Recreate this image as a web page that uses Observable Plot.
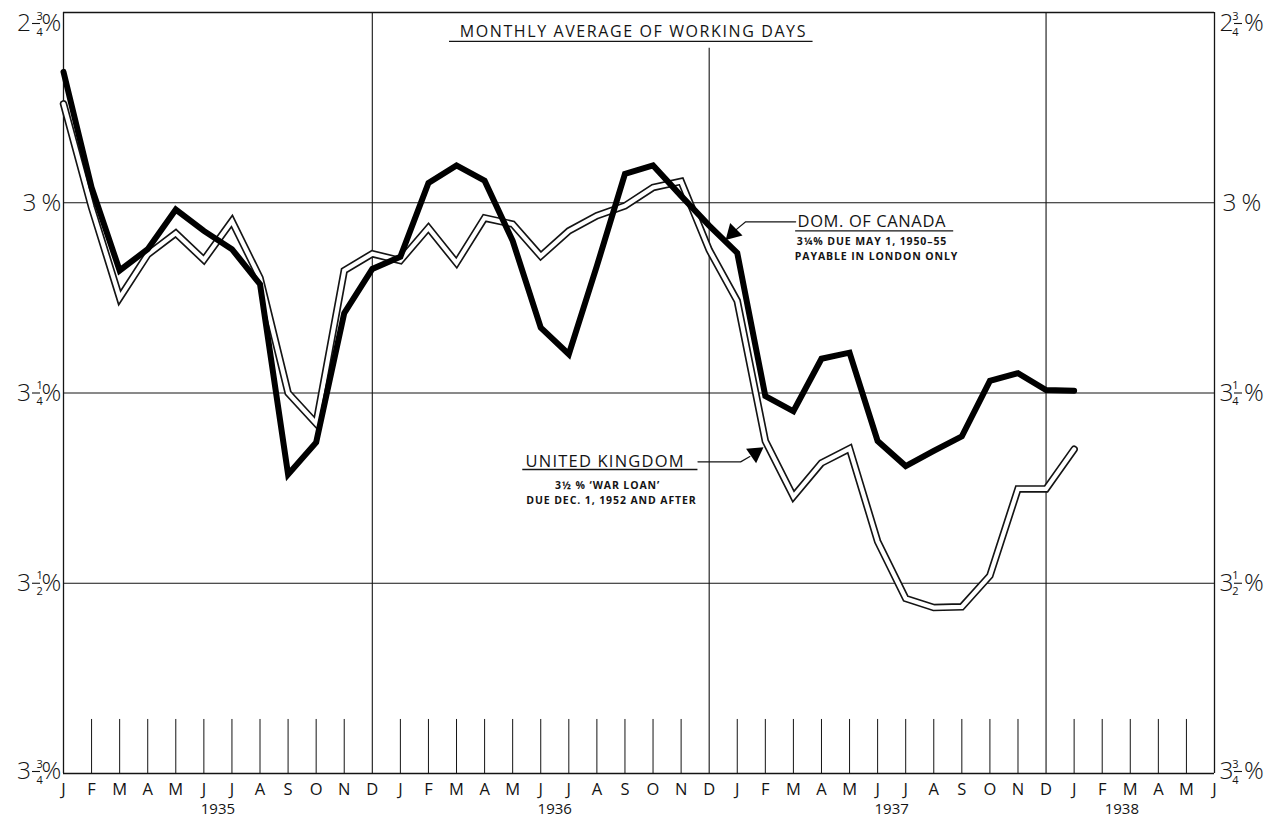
<!DOCTYPE html>
<html>
<head>
<meta charset="utf-8">
<script src="https://cdn.jsdelivr.net/npm/d3@7"></script>
<script src="https://cdn.jsdelivr.net/npm/@observablehq/plot@0.6"></script>
<style>
  html, body { margin: 0; padding: 0; background: #fff; }
  #chart svg text { font-family: "Open Sans", "DejaVu Sans", sans-serif; }
</style>
</head>
<body>
<div id="chart"></div>
<script>
// ---- data ----
const months = [
  "J","F","M","A","M","J","J","A","S","O","N","D",
  "J","F","M","A","M","J","J","A","S","O","N","D",
  "J","F","M","A","M","J","J","A","S","O","N","D",
  "J","F","M","A","M","J"
];
const years = ["1935", "1936", "1937", "1938"];
const yearPos = [5.5, 17.5, 29.5, 37.7];           // month-index where each year label sits
const dividers = [11, 23, 35];                      // "D" months carrying full vertical rules

// Yield (%) — Dom. of Canada 3¼% due May 1, 1950-55 (Jan 1935 – Jan 1938)
const canada = [
  2.828, 2.980, 3.089, 3.061, 3.009, 3.037, 3.061, 3.107, 3.357, 3.315, 3.145, 3.087,
  3.071, 2.974, 2.951, 2.971, 3.050, 3.164, 3.199, 3.083, 2.962, 2.951, 2.991, 3.030,
  3.066, 3.254, 3.274, 3.205, 3.197, 3.313, 3.346, 3.326, 3.307, 3.234, 3.224, 3.246,
  3.247
];
// Yield (%) — United Kingdom 3½% "War Loan" due Dec. 1, 1952 and after
const uk = [
  2.870, 3.006, 3.125, 3.068, 3.040, 3.075, 3.024, 3.099, 3.250, 3.290, 3.089, 3.067,
  3.076, 3.033, 3.079, 3.020, 3.028, 3.070, 3.037, 3.017, 3.004, 2.980, 2.972, 3.062,
  3.129, 3.313, 3.386, 3.342, 3.323, 3.445, 3.520, 3.532, 3.531, 3.490, 3.376, 3.376,
  3.324
];

const yTicks = [2.75, 3, 3.25, 3.5, 3.75];
const yWhole = ["2", "3", "3", "3", "3"];
const yNum   = ["3", "",  "1", "1", "3"];
const yDen   = ["4", "",  "4", "2", "4"];

const title = "MONTHLY AVERAGE OF WORKING DAYS";

// ---- derived tables ----
const idx = d3.range(months.length);
const minorTicks = idx.filter(i => i > 0 && i < months.length - 1 && !dividers.includes(i));
const canadaRows = canada.map((v, i) => ({i, v}));
const ukRows = uk.map((v, i) => ({i, v}));

const INK = "#141414";
const BIG = 24.5, SMALL = 11;
const shiftOf = k => (k === 0 ? 11 : (k === yTicks.length - 1 ? -2 : 0));
const FRAC_L = -27, FRAC_R = 24;

// y-axis labels with stacked fractions (left and right)
function yLabelMarks() {
  const out = [];
  yTicks.forEach((t, k) => {
    const frac = yNum[k] !== "";
    const shift = shiftOf(k);
    const common = {y: d => d, fill: INK, fontSize: BIG, fontWeight: 300, lineAnchor: "middle", dy: shift};
    // left side
    out.push(Plot.text([t], {...common, frameAnchor: "left", text: () => yWhole[k], textAnchor: "end", dx: frac ? -32.5 : -27}));
    out.push(Plot.text([t], {...common, frameAnchor: "left", text: () => "%", textAnchor: "start", dx: -22}));
    // right side
    out.push(Plot.text([t], {...common, frameAnchor: "right", text: () => yWhole[k], textAnchor: "start", dx: frac ? 5 : 8}));
    out.push(Plot.text([t], {...common, frameAnchor: "right", text: () => "%", textAnchor: "start", dx: frac ? 29.5 : 27}));
    if (frac) {
      for (const [anchor, dx] of [["left", FRAC_L], ["right", FRAC_R]]) {
        out.push(Plot.text([t], {y: d => d, frameAnchor: anchor, text: () => yNum[k], fontSize: SMALL, fill: INK, dx, dy: shift - 7.5}));
        out.push(Plot.text([t], {y: d => d, frameAnchor: anchor, text: () => yDen[k], fontSize: SMALL, fill: INK, dx, dy: shift + 8.5}));
      }
    }
  });
  return out;
}

const chart = Plot.plot({
  width: 1266,
  height: 820,
  marginTop: 12,
  marginRight: 52,
  marginBottom: 47,
  marginLeft: 63,
  x: {domain: [0, months.length - 1], axis: null},
  y: {domain: [2.75, 3.75], reverse: true, axis: null},
  style: {background: "#fff", color: INK, fontFamily: "Open Sans, DejaVu Sans, sans-serif", overflow: "visible"},
  marks: [
    // grid & frame
    Plot.ruleY([3, 3.25, 3.5], {stroke: INK, strokeWidth: 1}),
    Plot.ruleY([2.75, 3.75], {stroke: INK, strokeWidth: 1.3}),
    Plot.ruleX([0, months.length - 1], {stroke: INK, strokeWidth: 1.3}),
    Plot.ruleX(dividers, {y1: d => (d === 23 ? 2.797 : 2.75), y2: 3.75, stroke: INK, strokeWidth: 1.1}),
    Plot.ruleX(minorTicks, {y1: 3.679, y2: 3.75, stroke: INK, strokeWidth: 1}),

    // month & year labels
    Plot.text(idx, {x: d => d, text: d => months[d], frameAnchor: "bottom", dy: 21, fontSize: 16.5, fill: INK}),
    Plot.text(years, {x: (d, i) => yearPos[i], text: d => d, frameAnchor: "bottom", dy: 40, fontSize: 15, fill: INK}),

    ...yLabelMarks(),

    // title
    Plot.text([title], {x: 20.3, y: 2.7755, text: d => d, fontSize: 16, fill: INK}),
    Plot.ruleY([2.788], {x1: 13.75, x2: 26.7, stroke: INK, strokeWidth: 1.3}),

    // UK double line
    Plot.line(ukRows, {x: "i", y: "v", stroke: INK, strokeWidth: 7.5, strokeLinejoin: "miter", strokeMiterlimit: 3}),
    Plot.line(ukRows, {x: "i", y: "v", stroke: "#fff", strokeWidth: 4.2, strokeLinejoin: "miter", strokeMiterlimit: 3}),
    // Canada thick line
    Plot.line(canadaRows, {x: "i", y: "v", stroke: "#000", strokeWidth: 6, strokeLinejoin: "miter", strokeMiterlimit: 2.5}),

    // Canada annotation
    Plot.text(["DOM. OF CANADA"], {x: 26.15, y: 3.0245, text: d => d, textAnchor: "start", fontSize: 16.5, fill: INK}),
    Plot.ruleY([3.037], {x1: 26.08, x2: 31.71, stroke: INK, strokeWidth: 1.3}),
    Plot.text(["3¼% DUE MAY 1, 1950–55"], {x: 28.8, y: 3.051, text: d => d, fontSize: 10.5, fontWeight: 700, fill: INK}),
    Plot.text(["PAYABLE IN LONDON ONLY"], {x: 28.96, y: 3.071, text: d => d, fontSize: 10.5, fontWeight: 700, fill: INK}),
    Plot.line([[26.08, 3.025], [24.3, 3.025], [23.94, 3.036]], {stroke: INK, strokeWidth: 1.2}),
    Plot.dot([[23.84, 3.0395]], {symbol: "triangle", r: 6.5, rotate: 225, fill: "#000", stroke: "none"}),

    // UK annotation
    Plot.text(["UNITED KINGDOM"], {x: 16.46, y: 3.3405, text: d => d, textAnchor: "start", fontSize: 16.5, fill: INK}),
    Plot.ruleY([3.3505], {x1: 16.36, x2: 22.6, stroke: INK, strokeWidth: 1.3}),
    Plot.text(["3½ % ‘WAR LOAN’"], {x: 19.38, y: 3.3715, text: d => d, fontSize: 10.5, fontWeight: 700, fill: INK}),
    Plot.text(["DUE DEC. 1, 1952 AND AFTER"], {x: 19.52, y: 3.392, text: d => d, fontSize: 10.5, fontWeight: 700, fill: INK}),
    Plot.line([[22.6, 3.3405], [24.12, 3.3405], [24.45, 3.3335]], {stroke: INK, strokeWidth: 1.2}),
    Plot.dot([[24.64, 3.329]], {symbol: "triangle", r: 6.5, rotate: 55, fill: "#000", stroke: "none"})
  ]
});

document.getElementById("chart").appendChild(chart);

// post-styling: fraction bars and letter spacing
const svg = d3.select(chart);
const sx = chart.scale("x");
const sy = chart.scale("y");
const left = sx.apply(0), right = sx.apply(months.length - 1);
yTicks.forEach((t, k) => {
  if (!yNum[k]) return;
  const y = sy.apply(t) + shiftOf(k) + 0.5;
  for (const cx of [left + FRAC_L, right + FRAC_R]) {
    svg.append("line").attr("x1", cx - 4).attr("x2", cx + 4).attr("y1", y).attr("y2", y)
      .attr("stroke", INK).attr("stroke-width", 1.1);
  }
});
svg.selectAll("text").each(function () {
  const s = this.textContent;
  if (s === title) this.setAttribute("letter-spacing", "1.6");
  else if (s === "DOM. OF CANADA") this.setAttribute("letter-spacing", "0.6");
  else if (s === "UNITED KINGDOM") this.setAttribute("letter-spacing", "1.2");
  else if (s === "PAYABLE IN LONDON ONLY" || s.startsWith("DUE ") || (s.startsWith("3") && s.length > 3)) {
    this.setAttribute("letter-spacing", "0.9");
  }
});
</script>
</body>
</html>
